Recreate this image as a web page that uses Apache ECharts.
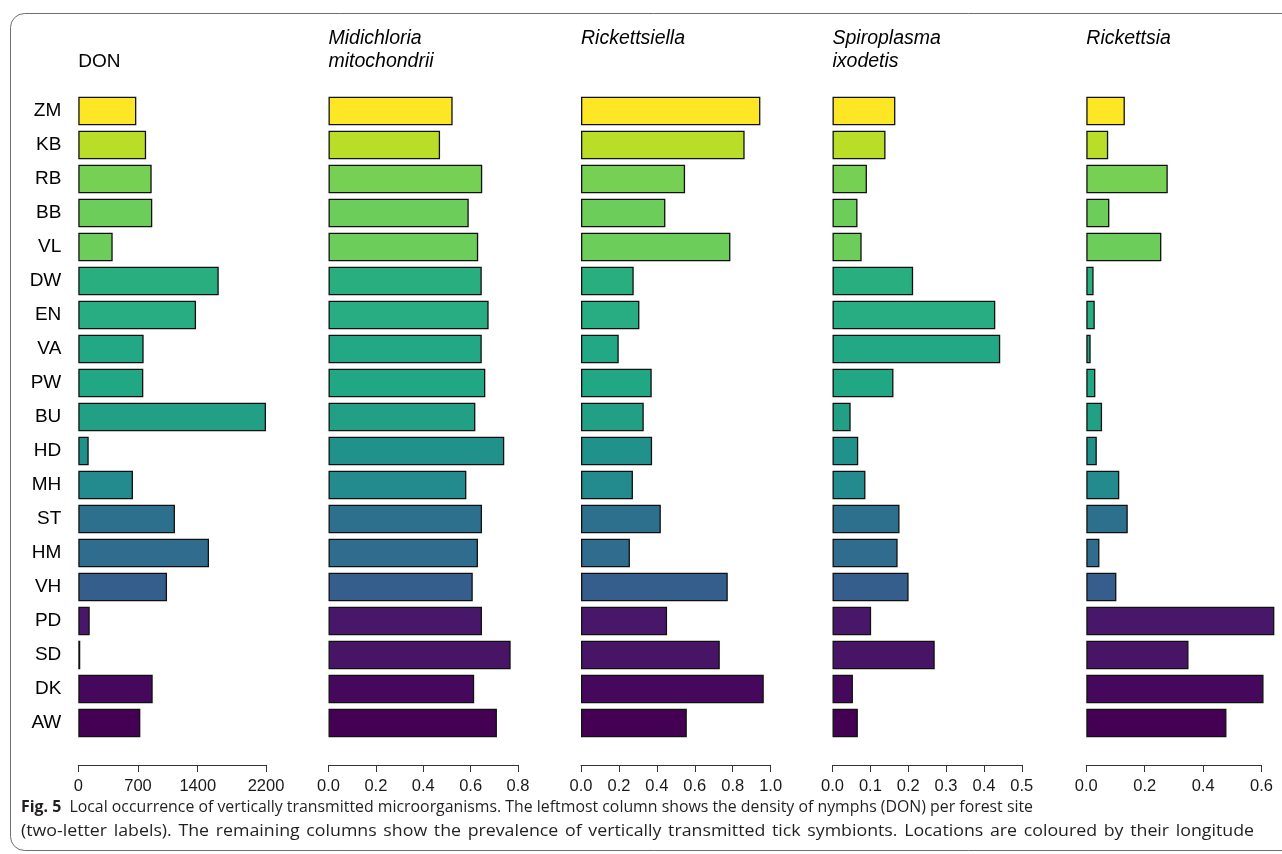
<!DOCTYPE html>
<html>
<head>
<meta charset="utf-8">
<title>Vertically transmitted microorganisms per site</title>
<script src="https://cdn.jsdelivr.net/npm/echarts@6/dist/echarts.min.js"></script>
<style>
  html, body { margin: 0; padding: 0; background: #ffffff; }
  #chart { width: 1282px; height: 854px; }
</style>
</head>
<body>
<div id="chart"></div>
<script>
// Forest sites, ordered east (top) to west (bottom)
const sites = ['ZM', 'KB', 'RB', 'BB', 'VL', 'DW', 'EN', 'VA', 'PW', 'BU',
               'HD', 'MH', 'ST', 'HM', 'VH', 'PD', 'SD', 'DK', 'AW'];

// Density of nymphs per site
const don = [680, 795, 860, 867, 403, 1646, 1380, 766, 762, 2200,
             122, 641, 1133, 1532, 1040, 134, 23, 872, 727];

// Prevalence of each symbiont per site
const midichloria = [0.524, 0.471, 0.649, 0.592, 0.632, 0.647, 0.676, 0.647, 0.662, 0.620,
                     0.742, 0.582, 0.648, 0.631, 0.609, 0.648, 0.769, 0.615, 0.711];
const rickettsiella = [0.946, 0.863, 0.549, 0.445, 0.788, 0.278, 0.308, 0.199, 0.373, 0.331,
                       0.375, 0.274, 0.421, 0.258, 0.774, 0.454, 0.732, 0.964, 0.558];
const spiroplasma = [0.166, 0.140, 0.091, 0.066, 0.077, 0.213, 0.430, 0.443, 0.161, 0.048,
                     0.068, 0.087, 0.177, 0.172, 0.201, 0.102, 0.270, 0.054, 0.067];
const rickettsia = [0.132, 0.075, 0.279, 0.079, 0.257, 0.025, 0.029, 0.015, 0.031, 0.054,
                    0.036, 0.113, 0.142, 0.045, 0.103, 0.644, 0.350, 0.607, 0.480];

// Longitude colours (viridis)
const siteColors = ['#fde725', '#bade28', '#75d054', '#6ccd5a', '#6ccd5a', '#29af7f', '#27ad81',
                    '#22a884', '#22a785', '#21a085', '#21918c', '#238a8d', '#2d708e', '#2f6c8e',
                    '#355e8d', '#481769', '#471466', '#46085c', '#440154'];

// Axis ticks per panel
const donTicks = [0, 700, 1400, 2200];
const panelMax = [2200, 0.8, 1.0, 0.5, 0.6];
const panelInterval = [null, 0.2, 0.2, 0.1, 0.2];

const panelTitles = [
  { lines: ['', 'DON'], italic: false },
  { lines: ['Midichloria', 'mitochondrii'], italic: true },
  { lines: ['Rickettsiella', ''], italic: true },
  { lines: ['Spiroplasma', 'ixodetis'], italic: true },
  { lines: ['Rickettsia', ''], italic: true }
];

const panelValues = [don, midichloria, rickettsiella, spiroplasma, rickettsia];

const gridBoxes = [
  { left: 78.3, width: 187.7 },
  { left: 328.5, width: 189.5 },
  { left: 581, width: 189.6 },
  { left: 832.5, width: 189.3 },
  { left: 1086.3, width: 175.2 }
];

const GRID_TOP = 94;
const GRID_HEIGHT = 646;
const FONT = 'Liberation Sans, Arial, Helvetica, sans-serif';

const grids = [], xAxes = [], yAxes = [], series = [];

gridBoxes.forEach(function (box, i) {
  grids.push({ left: box.left, width: box.width, top: GRID_TOP, height: GRID_HEIGHT, containLabel: false });

  const xa = {
    type: 'value',
    gridIndex: i,
    min: 0,
    max: panelMax[i],
    offset: 25,
    splitLine: { show: false },
    axisLine: { show: true, lineStyle: { color: '#333333', width: 1 } },
    axisTick: { show: true, length: 7, lineStyle: { color: '#333333', width: 1 } },
    axisLabel: {
      color: '#1a1a1a',
      fontSize: 16.5,
      fontFamily: FONT,
      margin: 13,
      hideOverlap: false,
      showMinLabel: true,
      showMaxLabel: true,
      formatter: i === 0 ? function (v) { return String(v); } : function (v) { return v.toFixed(1); }
    }
  };
  if (i === 0) {
    xa.axisTick.customValues = donTicks;
    xa.axisLabel.customValues = donTicks;
  } else {
    xa.interval = panelInterval[i];
  }
  xAxes.push(xa);

  yAxes.push({
    type: 'category',
    gridIndex: i,
    data: sites,
    inverse: true,
    axisLine: { show: false },
    axisTick: { show: false },
    splitLine: { show: false },
    axisLabel: {
      show: i === 0,
      color: '#000000',
      fontSize: 19,
      fontFamily: FONT,
      margin: 17,
      align: 'right'
    }
  });

  series.push({
    type: 'bar',
    xAxisIndex: i,
    yAxisIndex: i,
    clip: false,
    barCategoryGap: '16%',
    silent: true,
    animation: false,
    data: panelValues[i].map(function (v, k) {
      return {
        value: v,
        itemStyle: { color: siteColors[k], borderColor: '#111111', borderWidth: 1.3 }
      };
    })
  });
});

// Panel headings
const graphics = [];
panelTitles.forEach(function (t, i) {
  t.lines.forEach(function (line, j) {
    if (!line) return;
    graphics.push({
      type: 'text',
      left: gridBoxes[i].left,
      top: j === 0 ? 29 : 52,
      style: {
        text: line,
        fontSize: t.italic ? 19.5 : 19,
        fontFamily: FONT,
        fontStyle: t.italic ? 'italic' : 'normal',
        fill: '#000000'
      },
      silent: true
    });
  });
});

// Figure frame
graphics.push({
  type: 'rect',
  shape: { x: 10.5, y: 13.5, width: 1300, height: 837, r: 14 },
  style: { fill: 'none', stroke: '#6e6e6e', lineWidth: 1 },
  z: -10,
  silent: true
});

// Figure caption
const CAPTION_FONT = '"Open Sans", "Noto Sans", sans-serif';
const CAPTION_SIZE = 16;
const CAPTION_LEFT = 21;
const captionLead = 'Fig. 5';
const captionLine1 = 'Local occurrence of vertically transmitted microorganisms. The leftmost column shows the density of nymphs (DON) per forest site';
const captionLine2 = '(two-letter labels). The remaining columns show the prevalence of vertically transmitted tick symbionts. Locations are coloured by their longitude';
const captionRight = [1033, 1254];

(function () {
  const ctx = document.createElement('canvas').getContext('2d');
  ctx.font = 'bold ' + CAPTION_SIZE + 'px ' + CAPTION_FONT;
  const leadW = ctx.measureText(captionLead).width;
  ctx.font = CAPTION_SIZE + 'px ' + CAPTION_FONT;
  const line1W = leadW + ctx.measureText('  ' + captionLine1).width;

  graphics.push({
    type: 'text',
    x: CAPTION_LEFT,
    y: 799,
    scaleX: (captionRight[0] - CAPTION_LEFT) / line1W,
    style: {
      text: '{b|' + captionLead + '}  ' + captionLine1,
      fontSize: CAPTION_SIZE,
      fontFamily: CAPTION_FONT,
      fill: '#231f20',
      rich: { b: { fontWeight: 'bold', fontSize: CAPTION_SIZE, fontFamily: CAPTION_FONT, fill: '#231f20' } }
    },
    silent: true
  });

  // Second line is justified: slightly widened glyphs plus wider word gaps
  const stretch = 1.11;
  const words = captionLine2.split(' ');
  const widths = words.map(function (w) { return ctx.measureText(w).width * stretch; });
  const total = widths.reduce(function (a, b) { return a + b; }, 0);
  const gap = (captionRight[1] - CAPTION_LEFT - total) / (words.length - 1);
  let x = CAPTION_LEFT;
  words.forEach(function (w, k) {
    graphics.push({
      type: 'text',
      x: x,
      y: 823,
      scaleX: stretch,
      style: { text: w, fontSize: CAPTION_SIZE, fontFamily: CAPTION_FONT, fill: '#231f20' },
      silent: true
    });
    x += widths[k] + gap;
  });
})();

const chart = echarts.init(document.getElementById('chart'), null, { renderer: 'canvas' });
chart.setOption({
  backgroundColor: '#ffffff',
  animation: false,
  grid: grids,
  xAxis: xAxes,
  yAxis: yAxes,
  series: series,
  graphic: graphics
});
</script>
</body>
</html>
